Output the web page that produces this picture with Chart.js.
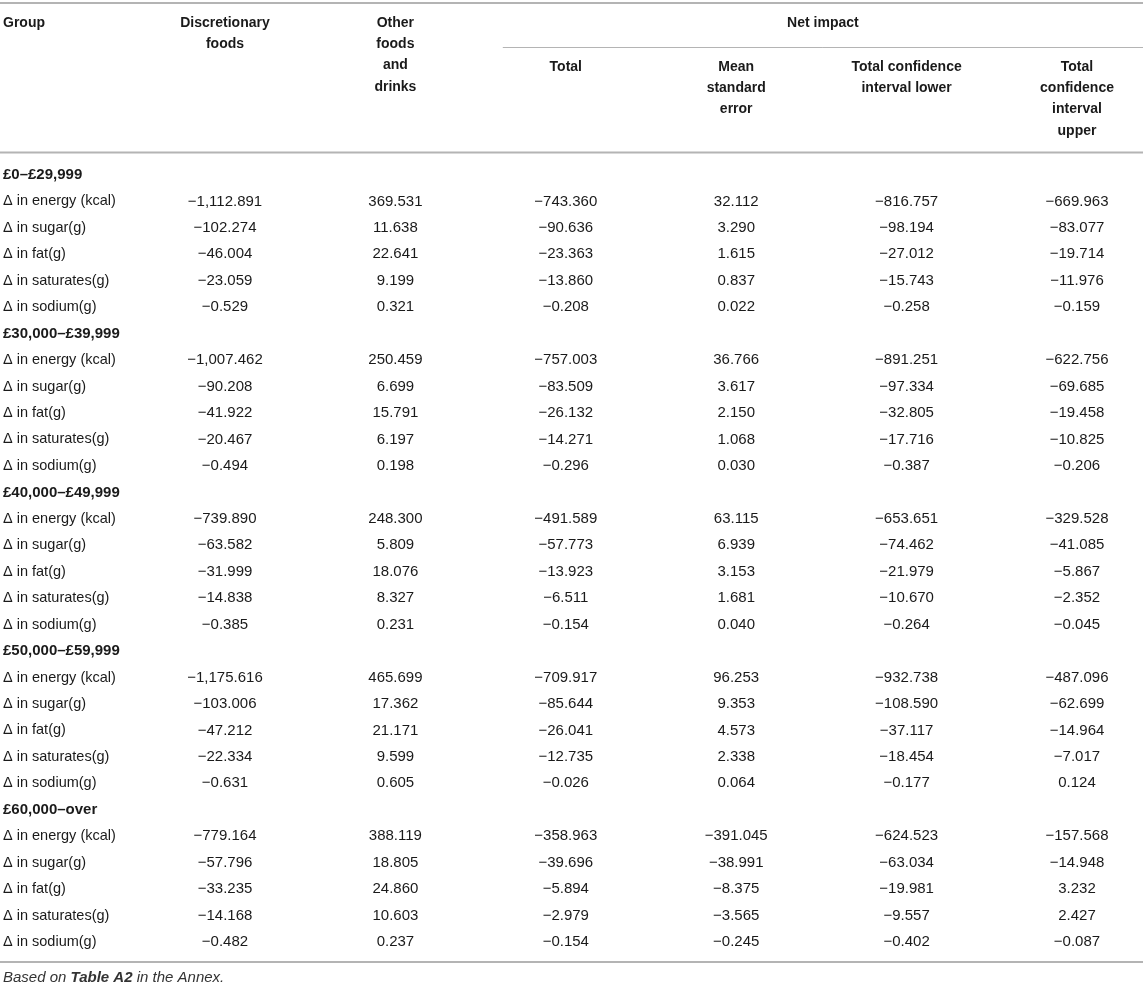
<!DOCTYPE html>
<html>
<head>
<meta charset="utf-8">
<script src="https://cdn.jsdelivr.net/npm/chart.js@4.4.1/dist/chart.umd.min.js"></script>
<style>
  html, body { margin: 0; padding: 0; background: #fff; }
  #wrap { width: 1143px; height: 987px; }
</style>
</head>
<body>
<div id="wrap"><canvas id="myChart" width="1143" height="987"></canvas></div>
<script>
// income groups and the measures listed under each
let groups = ['£0–£29,999', '£30,000–£39,999', '£40,000–£49,999', '£50,000–£59,999', '£60,000–over'];
let measures = ['Δ in energy (kcal)', 'Δ in sugar(g)', 'Δ in fat(g)', 'Δ in saturates(g)', 'Δ in sodium(g)'];

// column headers, one array of lines per column
let columns = ['Discretionary foods', 'Other foods and drinks', 'Total', 'Mean standard error',
    'Total confidence interval lower', 'Total confidence interval upper'];
let headerLines = [
    ['Discretionary', 'foods'],
    ['Other', 'foods', 'and', 'drinks'],
    ['Total'],
    ['Mean', 'standard', 'error'],
    ['Total confidence', 'interval lower'],
    ['Total', 'confidence', 'interval', 'upper']
];

// values, 5 measures per group, groups in order
let discretionary = [
    -1112.891, -102.274, -46.004, -23.059, -0.529,
    -1007.462, -90.208, -41.922, -20.467, -0.494,
    -739.890, -63.582, -31.999, -14.838, -0.385,
    -1175.616, -103.006, -47.212, -22.334, -0.631,
    -779.164, -57.796, -33.235, -14.168, -0.482
];
let otherFoods = [
    369.531, 11.638, 22.641, 9.199, 0.321,
    250.459, 6.699, 15.791, 6.197, 0.198,
    248.300, 5.809, 18.076, 8.327, 0.231,
    465.699, 17.362, 21.171, 9.599, 0.605,
    388.119, 18.805, 24.860, 10.603, 0.237
];
let netTotal = [
    -743.360, -90.636, -23.363, -13.860, -0.208,
    -757.003, -83.509, -26.132, -14.271, -0.296,
    -491.589, -57.773, -13.923, -6.511, -0.154,
    -709.917, -85.644, -26.041, -12.735, -0.026,
    -358.963, -39.696, -5.894, -2.979, -0.154
];
let meanStdError = [
    32.112, 3.290, 1.615, 0.837, 0.022,
    36.766, 3.617, 2.150, 1.068, 0.030,
    63.115, 6.939, 3.153, 1.681, 0.040,
    96.253, 9.353, 4.573, 2.338, 0.064,
    -391.045, -38.991, -8.375, -3.565, -0.245
];
let ciLower = [
    -816.757, -98.194, -27.012, -15.743, -0.258,
    -891.251, -97.334, -32.805, -17.716, -0.387,
    -653.651, -74.462, -21.979, -10.670, -0.264,
    -932.738, -108.590, -37.117, -18.454, -0.177,
    -624.523, -63.034, -19.981, -9.557, -0.402
];
let ciUpper = [
    -669.963, -83.077, -19.714, -11.976, -0.159,
    -622.756, -69.685, -19.458, -10.825, -0.206,
    -329.528, -41.085, -5.867, -2.352, -0.045,
    -487.096, -62.699, -14.964, -7.017, 0.124,
    -157.568, -14.948, 3.232, 2.427, -0.087
];

let series = [discretionary, otherFoods, netTotal, meanStdError, ciLower, ciUpper];

let FONT = '"Liberation Sans", Arial, Helvetica, sans-serif';
let TEXT = '#1a1a1a';
let RULE = '#b4b4b4';

// row index in the table: group header then its five measures
function rowOf(i) {
    let g = Math.floor(i / 5);
    return g * 6 + 1 + (i % 5);
}

function fmt(v) {
    let s = Math.abs(v).toLocaleString('en-GB', { minimumFractionDigits: 3, maximumFractionDigits: 3 });
    return (v < 0 ? '\u2212' : '') + s;
}

let datasets = series.map(function (vals, c) {
    return {
        label: columns[c],
        data: vals.map(function (v, i) { return { x: columns[c], y: rowOf(i), v: v }; }),
        pointRadius: 0,
        showLine: false
    };
});

let tablePlugin = {
    id: 'tableText',
    afterDatasetsDraw(chart) {
        let ctx = chart.ctx;
        let xs = chart.scales.x, ys = chart.scales.y;
        let W = chart.width;
        ctx.save();
        ctx.fillStyle = TEXT;
        ctx.textBaseline = 'middle';

        // rules
        ctx.strokeStyle = RULE;
        ctx.lineWidth = 2;
        [3, 152.5, 962].forEach(function (y) {
            ctx.beginPath(); ctx.moveTo(0, y); ctx.lineTo(W, y); ctx.stroke();
        });
        let netLeft = xs.getPixelForValue(2) - 63;
        ctx.lineWidth = 1;
        ctx.beginPath(); ctx.moveTo(netLeft, 47.5); ctx.lineTo(W, 47.5); ctx.stroke();

        // header
        ctx.font = 'bold 14px ' + FONT;
        ctx.textAlign = 'left';
        ctx.fillText('Group', 3, 23);
        ctx.textAlign = 'center';
        ctx.fillText('Net impact', (netLeft + W) / 2, 23);
        headerLines.forEach(function (lines, c) {
            let x = xs.getPixelForValue(c);
            let top = c < 2 ? 23 : 67;
            lines.forEach(function (t, k) { ctx.fillText(t, x, top + k * 21.3); });
        });

        // row labels
        ctx.textAlign = 'left';
        groups.forEach(function (g, gi) {
            ctx.font = 'bold 15px ' + FONT;
            ctx.fillText(g, 3, ys.getPixelForValue(gi * 6));
            ctx.font = '14.5px ' + FONT;
            measures.forEach(function (m, mi) {
                ctx.fillText(m, 3, ys.getPixelForValue(gi * 6 + 1 + mi));
            });
        });

        // cells
        ctx.font = '15px ' + FONT;
        ctx.textAlign = 'center';
        chart.data.datasets.forEach(function (ds, di) {
            let meta = chart.getDatasetMeta(di);
            meta.data.forEach(function (pt, i) {
                ctx.fillText(fmt(ds.data[i].v), pt.x, pt.y);
            });
        });

        // footnote
        ctx.fillStyle = '#333';
        ctx.textAlign = 'left';
        let x = 3, y = 978;
        ctx.font = 'italic 15px ' + FONT;
        ctx.fillText('Based on ', x, y); x += ctx.measureText('Based on ').width;
        ctx.font = 'italic bold 15px ' + FONT;
        ctx.fillText('Table A2', x, y); x += ctx.measureText('Table A2').width;
        ctx.font = 'italic 15px ' + FONT;
        ctx.fillText(' in the Annex.', x, y);
        ctx.restore();
    }
};

let ctx = document.getElementById('myChart').getContext('2d');
let chart = new Chart(ctx, {
    type: 'scatter',
    data: { labels: columns, datasets: datasets },
    options: {
        responsive: false,
        animation: false,
        devicePixelRatio: 1,
        events: [],
        layout: { padding: { top: 175, bottom: 45, left: 225, right: 66 } },
        plugins: { legend: { display: false }, tooltip: { enabled: false } },
        scales: {
            x: { type: 'category', labels: columns, offset: false, display: false },
            y: { type: 'linear', min: 0, max: 29, reverse: true, display: false }
        }
    },
    plugins: [tablePlugin]
});
</script>
</body>
</html>
